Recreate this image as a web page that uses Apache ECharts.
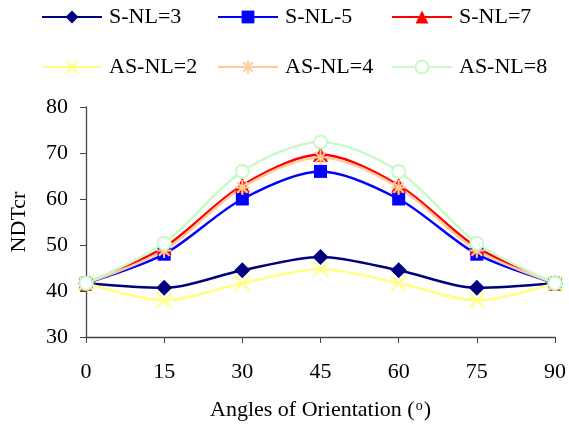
<!DOCTYPE html>
<html>
<head>
<meta charset="utf-8">
<script src="https://cdn.jsdelivr.net/npm/echarts@6/dist/echarts.min.js"></script>
<style>
  html, body { margin: 0; padding: 0; background: #fff; }
  #chart { width: 569px; height: 429px; }
</style>
</head>
<body>
<div id="chart"></div>
<script>
// Orientation angles (degrees) and NDTcr for each laminate
const angles = [0, 15, 30, 45, 60, 75, 90];
const sNL3  = [41.7, 40.7, 44.5, 47.4, 44.5, 40.7, 41.7];
const sNL5  = [41.7, 48.0, 60.0, 66.0, 60.0, 48.0, 41.7];
const sNL7  = [41.7, 49.5, 63.0, 69.7, 63.0, 49.5, 41.7];
const asNL2 = [41.7, 38.0, 41.7, 44.8, 41.7, 38.0, 41.7];
const asNL4 = [41.7, 48.8, 62.5, 69.0, 62.5, 48.8, 41.7];
const asNL8 = [41.7, 50.4, 66.0, 72.4, 66.0, 50.4, 41.7];
const yTicks = [30, 40, 50, 60, 70, 80];

const FONT = '"Liberation Serif", "Times New Roman", serif';
const crossPath = 'path://M0,0L10,10M10,0L0,10';
const starPath = 'path://M5,0L5,10M0,5L10,5M1.5,1.5L8.5,8.5M8.5,1.5L1.5,8.5';

const seriesDefs = [
  { name: 'S-NL=3',  data: sNL3,  color: '#000080', symbol: 'diamond',  size: 16 },
  { name: 'S-NL-5',  data: sNL5,  color: '#0000FF', symbol: 'rect',     size: 13 },
  { name: 'S-NL=7',  data: sNL7,  color: '#FF0000', symbol: 'triangle', size: 15 },
  { name: 'AS-NL=2', data: asNL2, color: '#FFFF80', symbol: crossPath,  size: 15, stroke: true },
  { name: 'AS-NL=4', data: asNL4, color: '#FFCC99', symbol: starPath,   size: 15, stroke: true },
  { name: 'AS-NL=8', data: asNL8, color: '#C8FAC8', symbol: 'emptyCircle', size: 13, stroke: true }
];

const series = seriesDefs.map(d => ({
  name: d.name,
  type: 'line',
  smooth: 0.3,
  data: angles.map((a, i) => [a, d.data[i]]),
  symbol: d.symbol,
  symbolSize: d.size,
  showAllSymbol: true,
  lineStyle: { color: d.color, width: 2.5 },
  itemStyle: d.stroke
    ? { color: d.color, borderColor: d.color, borderWidth: 2 }
    : { color: d.color, borderWidth: 0 },
  emphasis: { disabled: true }
}));

// Legend laid out as a 3x2 block
const legendPos = [
  [41, 6], [217, 6], [391, 6],
  [41, 56], [217, 56], [391, 56]
];
const legends = seriesDefs.map((d, i) => ({
  data: [d.name],
  left: legendPos[i][0],
  top: legendPos[i][1],
  itemWidth: 60,
  itemHeight: 16,
  itemGap: 0,
  padding: 0,
  selectedMode: false,
  textStyle: { fontFamily: FONT, fontSize: 22, color: '#000', padding: [0, 0, 0, 2] }
}));

const chart = echarts.init(document.getElementById('chart'));
chart.setOption({
  animation: false,
  backgroundColor: '#fff',
  legend: legends,
  grid: { left: 84, right: 11, top: 107, bottom: 92, containLabel: false },
  xAxis: {
    type: 'value',
    min: 0, max: 90, interval: 15,
    name: 'Angles of Orientation ({sup|o})',
    nameLocation: 'middle',
    nameGap: 62,
    nameTextStyle: {
      fontFamily: FONT, fontSize: 22, color: '#000',
      rich: { sup: { fontFamily: FONT, fontSize: 14, color: '#000', verticalAlign: 'top', padding: [0, 1, 8, 1] } }
    },
    axisLine: { lineStyle: { color: '#444', width: 1.3 } },
    axisTick: { inside: false, length: 6, lineStyle: { color: '#444' } },
    axisLabel: { fontFamily: FONT, fontSize: 22, color: '#000', margin: 24 },
    splitLine: { show: false }
  },
  yAxis: {
    type: 'value',
    min: yTicks[0], max: yTicks[yTicks.length - 1], interval: 10,
    name: 'NDTcr',
    nameLocation: 'middle',
    nameGap: 56,
    nameRotate: 90,
    nameTextStyle: { fontFamily: FONT, fontSize: 22, color: '#000' },
    axisLine: { show: true, lineStyle: { color: '#444', width: 1.3 } },
    axisTick: { show: true, inside: false, length: 6, lineStyle: { color: '#444' } },
    axisLabel: { fontFamily: FONT, fontSize: 22, color: '#000', margin: 18 },
    splitLine: { show: false }
  },
  series: series
});
</script>
</body>
</html>
